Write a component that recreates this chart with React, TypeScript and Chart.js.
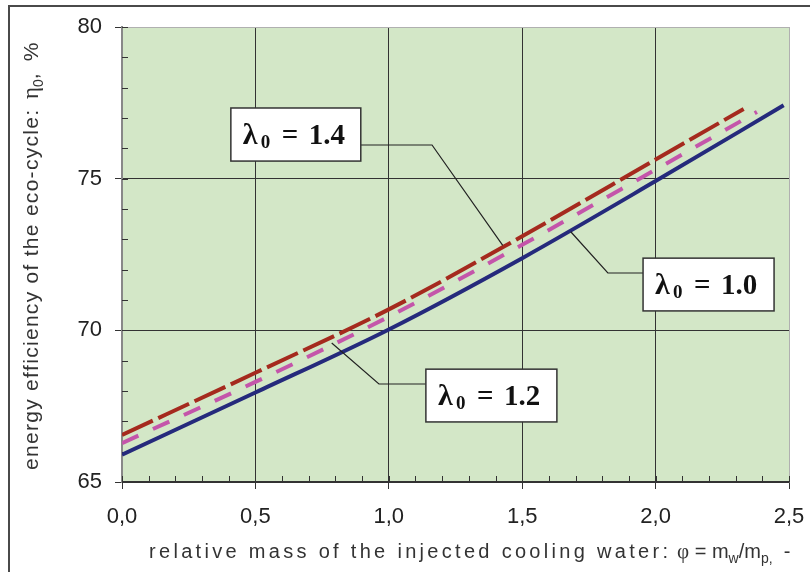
import React, { useEffect, useRef } from 'react';
import { Chart, registerables } from 'chart.js';

Chart.register(...registerables);

// ---- data ----
const xLambda10 = [0, 0.5, 1.0, 1.5, 2.0, 2.48];
const yLambda10 = [65.9, 67.95, 70.03, 72.38, 74.92, 77.42];
const xLambda12 = [0, 0.5, 1.0, 1.5, 2.0, 2.38];
const yLambda12 = [66.28, 68.3, 70.45, 72.82, 75.3, 77.2];
const xLambda14 = [0, 0.5, 1.0, 1.5, 2.0, 2.33];
const yLambda14 = [66.55, 68.6, 70.69, 73.1, 75.63, 77.3];
const seriesNames = ['λ0 = 1.0', 'λ0 = 1.2', 'λ0 = 1.4'];
const lambdaValues = ['1.0', '1.2', '1.4'];

const xMin = 0, xMax = 2.5, xStep = 0.5, xMinorStep = 0.1;
const yMin = 65, yMax = 80, yStep = 5, yMinorStep = 1;

// annotation callouts (data coordinates): box corners and leader polyline
const callouts = [
  { label: lambdaValues[2], x0: 0.408, x1: 0.895, yTop: 77.33, yBot: 75.58, lead: [[0.895, 76.11], [1.162, 76.11], [1.427, 72.8]] },
  { label: lambdaValues[0], x0: 1.953, x1: 2.444, yTop: 72.38, yBot: 70.64, lead: [[1.953, 71.89], [1.821, 71.89], [1.682, 73.25]] },
  { label: lambdaValues[1], x0: 1.139, x1: 1.63, yTop: 68.72, yBot: 66.98, lead: [[1.139, 68.23], [0.963, 68.23], [0.786, 69.58]] },
];

const BG = '#d3e7c7';
const SANS = '"Liberation Sans", Arial, sans-serif';
const SERIF = '"Liberation Serif", "Times New Roman", serif';

const toPts = (xs: number[], ys: number[]) => xs.map((x, i) => ({ x, y: ys[i] }));

// draw text spread (tracked) so it occupies the given width; returns end x
function drawSpread(ctx: any, text: string, font: string, x: number, y: number, width: number) {
  ctx.font = font;
  const chars = Array.from(text);
  const widths = chars.map((c) => ctx.measureText(c).width);
  const natural = widths.reduce((s, w) => s + w, 0);
  const sp = chars.length > 1 ? (width - natural) / (chars.length - 1) : 0;
  let tx = x;
  chars.forEach((c, i) => {
    ctx.fillText(c, tx, y);
    tx += widths[i] + sp;
  });
  return x + width;
}

// parts: [text, font, dy, extraAdvanceBefore]
function drawParts(ctx: any, parts: [string, string, number, number][], x: number, y: number) {
  let tx = x;
  for (const [t, f, dy, pre] of parts) {
    ctx.font = f;
    tx += pre;
    ctx.fillText(t, tx, y + dy);
    tx += ctx.measureText(t).width;
  }
  return tx;
}

const customPlugin = {
  id: 'custom',
  beforeDraw(chart: any) {
    const { ctx, chartArea: a } = chart;
    ctx.save();
    ctx.fillStyle = '#ffffff';
    ctx.fillRect(0, 0, chart.width, chart.height);
    ctx.fillStyle = BG;
    ctx.fillRect(a.left, a.top, a.right - a.left, a.bottom - a.top);
    ctx.strokeStyle = '#4a4a4a';
    ctx.lineWidth = 2;
    ctx.strokeRect(9, 6, chart.width + 20, chart.height + 20);
    ctx.restore();
  },
  beforeDatasetsDraw(chart: any) {
    const { ctx, chartArea: a, scales } = chart;
    const xs = scales.x, ys = scales.y;
    ctx.save();
    ctx.strokeStyle = '#333';
    ctx.lineWidth = 1;
    for (let v = yMin; v <= yMax + 1e-9; v += yMinorStep) {
      const py = Math.round(ys.getPixelForValue(v)) + 0.5;
      ctx.beginPath();
      ctx.moveTo(a.left, py);
      ctx.lineTo(a.left + 6, py);
      ctx.stroke();
    }
    for (let i = 0; i <= Math.round((xMax - xMin) / xMinorStep); i++) {
      const v = xMin + i * xMinorStep;
      const px = Math.round(xs.getPixelForValue(v)) + 0.5;
      ctx.beginPath();
      ctx.moveTo(px, a.bottom);
      ctx.lineTo(px, a.bottom - 6);
      ctx.stroke();
    }
    ctx.restore();
  },
  afterDraw(chart: any) {
    const { ctx, scales } = chart;
    const xs = scales.x, ys = scales.y;
    ctx.save();
    for (const c of callouts) {
      ctx.strokeStyle = '#222';
      ctx.lineWidth = 1.2;
      ctx.beginPath();
      c.lead.forEach((p, i) => {
        const px = xs.getPixelForValue(p[0]);
        const py = ys.getPixelForValue(p[1]);
        if (i === 0) ctx.moveTo(px, py); else ctx.lineTo(px, py);
      });
      ctx.stroke();
      const L = xs.getPixelForValue(c.x0), R = xs.getPixelForValue(c.x1);
      const T = ys.getPixelForValue(c.yTop), B = ys.getPixelForValue(c.yBot);
      ctx.fillStyle = '#fff';
      ctx.fillRect(L, T, R - L, B - T);
      ctx.strokeStyle = '#333';
      ctx.lineWidth = 1.5;
      ctx.strokeRect(L, T, R - L, B - T);
      const base = T + 36;
      ctx.fillStyle = '#111';
      ctx.textBaseline = 'alphabetic';
      ctx.textAlign = 'left';
      ctx.font = 'bold 30px ' + SERIF;
      ctx.fillText('λ', L + 12, base);
      ctx.font = 'bold 19px ' + SERIF;
      ctx.fillText('0', L + 30, base + 4);
      ctx.font = 'bold 29px ' + SERIF;
      ctx.fillText('=', L + 51, base);
      ctx.fillText(c.label, L + 78, base);
    }

    // x axis title
    ctx.fillStyle = '#333';
    ctx.textBaseline = 'alphabetic';
    ctx.textAlign = 'left';
    const xe = drawSpread(ctx, 'relative mass of the injected cooling water:', '20px ' + SANS, 149, 558, 519);
    drawParts(ctx, [
      ['φ', '21px ' + SERIF, 0, 9],
      [' = m', '20px ' + SANS, 0, 0],
      ['w', '14px ' + SANS, 5, 0],
      ['/m', '20px ' + SANS, 0, 0],
      ['p,', '14px ' + SANS, 5, 0],
      ['  -', '20px ' + SANS, 0, 0],
    ], xe, 558);

    // y axis title (rotated)
    ctx.translate(38, 470);
    ctx.rotate(-Math.PI / 2);
    const ye = drawSpread(ctx, 'energy efficiency of the eco-cycle:', '21px ' + SANS, 0, 0, 360);
    drawParts(ctx, [
      ['η', '23px ' + SERIF, 0, 11],
      ['0', '14px ' + SANS, 5, 0],
      [',', '21px ' + SANS, 0, 0],
      ['%', '21px ' + SANS, 0, 12],
    ], ye, 0);
    ctx.restore();
  },
};

export default function App() {
  const ref = useRef<HTMLCanvasElement | null>(null);
  useEffect(() => {
    if (!ref.current) return;
    const chart = new Chart(ref.current, {
      type: 'line',
      data: {
        datasets: [
          {
            label: seriesNames[2],
            data: toPts(xLambda14, yLambda14),
            borderColor: '#a52a1e',
            borderWidth: 4,
            borderDash: [34, 6],
            pointRadius: 0,
            cubicInterpolationMode: 'monotone',
            fill: false,
          },
          {
            label: seriesNames[1],
            data: toPts(xLambda12, yLambda12),
            borderColor: '#c455aa',
            borderWidth: 4,
            borderDash: [18, 16],
            pointRadius: 0,
            cubicInterpolationMode: 'monotone',
            fill: false,
          },
          {
            label: seriesNames[0],
            data: toPts(xLambda10, yLambda10),
            borderColor: '#252a7c',
            borderWidth: 4,
            pointRadius: 0,
            cubicInterpolationMode: 'monotone',
            fill: false,
          },
        ],
      },
      options: {
        animation: false,
        responsive: false,
        devicePixelRatio: 1,
        layout: { padding: { left: 0, top: 27, right: 21, bottom: 0 } },
        plugins: { legend: { display: false }, tooltip: { enabled: false }, title: { display: false } },
        scales: {
          x: {
            type: 'linear',
            min: xMin,
            max: xMax,
            ticks: {
              stepSize: xStep,
              color: '#222',
              font: { family: SANS, size: 22 },
              padding: 15,
              callback: (v: any) => Number(v).toFixed(1).replace('.', ','),
              maxRotation: 0,
            },
            grid: {
              color: (c: any) => (c.tick && Math.abs(c.tick.value - xMax) < 1e-9 ? '#b0b0b0' : '#333'),
              tickColor: '#333',
              tickLength: 7,
              lineWidth: 1,
            },
            border: { display: true, color: '#333', width: 1.5 },
            afterFit: (s: any) => { s.height = 90; s.paddingLeft = 0; s.paddingRight = 0; },
          },
          y: {
            type: 'linear',
            min: yMin,
            max: yMax,
            ticks: {
              stepSize: yStep,
              color: '#222',
              font: { family: SANS, size: 22 },
              padding: 13,
            },
            grid: {
              color: (c: any) => (c.tick && Math.abs(c.tick.value - yMax) < 1e-9 ? '#b0b0b0' : '#333'),
              tickColor: '#333',
              tickLength: 7,
              lineWidth: 1,
            },
            border: { display: true, color: '#888', width: 2 },
            afterFit: (s: any) => { s.width = 122; s.paddingTop = 0; s.paddingBottom = 0; },
          },
        },
      },
      plugins: [customPlugin],
    } as any);
    return () => chart.destroy();
  }, []);
  return (
    <div style={{ position: 'fixed', left: 0, top: 0, width: 810, height: 572, background: '#fff' }}>
      <canvas ref={ref} width={810} height={572} style={{ display: 'block', width: 810, height: 572 }} />
    </div>
  );
}
